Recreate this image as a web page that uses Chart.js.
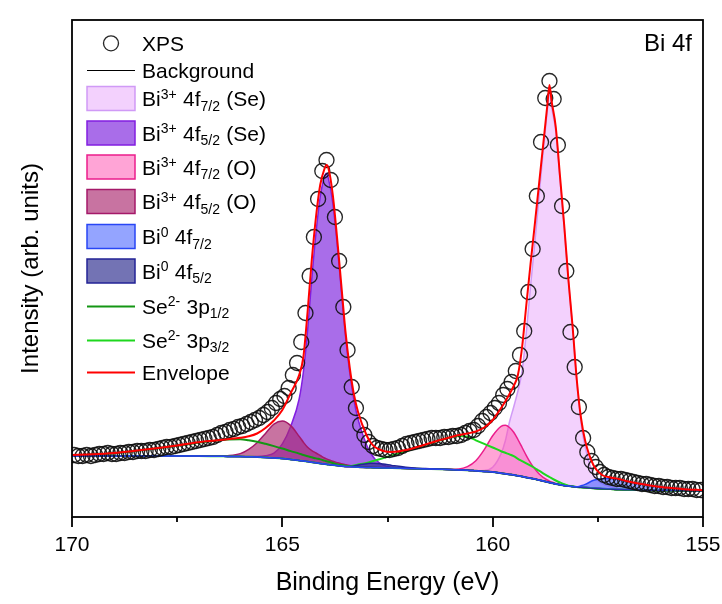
<!DOCTYPE html>
<html>
<head>
<meta charset="utf-8">
<title>Bi 4f XPS</title>
<script src="https://cdn.jsdelivr.net/npm/chart.js@4.4.1/dist/chart.umd.min.js"></script>
<style>
  html, body { margin: 0; padding: 0; background: #ffffff; }
  #wrap { width: 722px; height: 604px; position: relative; }
</style>
</head>
<body>
<div id="wrap"><canvas id="chart" width="722" height="604"></canvas></div>
<script>
// ---- Measured Bi 4f spectrum (binding energy in eV, intensity in arb. units) ----
const xpsEnergy = [
  169.95,169.85,169.75,169.65,169.55,169.45,169.35,169.25,169.15,169.05,
  168.95,168.85,168.75,168.65,168.55,168.45,168.35,168.25,168.15,168.05,
  167.95,167.85,167.75,167.65,167.55,167.45,167.35,167.25,167.15,167.05,
  166.95,166.85,166.75,166.65,166.55,166.45,166.35,166.25,166.15,166.05,
  165.95,165.85,165.75,165.65,165.55,165.45,165.35,165.25,165.15,165.05,
  164.95,164.85,164.75,164.65,164.55,164.45,164.35,164.25,164.15,164.05,
  163.95,163.85,163.75,163.65,163.55,163.45,163.35,163.25,163.15,163.05,
  162.95,162.85,162.75,162.65,162.55,162.45,162.35,162.25,162.15,162.05,
  161.95,161.85,161.75,161.65,161.55,161.45,161.35,161.25,161.15,161.05,
  160.95,160.85,160.75,160.65,160.55,160.45,160.35,160.25,160.15,160.05,
  159.95,159.85,159.75,159.65,159.55,159.45,159.35,159.25,159.15,159.05,
  158.95,158.85,158.75,158.65,158.55,158.45,158.35,158.25,158.15,158.05,
  157.95,157.85,157.75,157.65,157.55,157.45,157.35,157.25,157.15,157.05,
  156.95,156.85,156.75,156.65,156.55,156.45,156.35,156.25,156.15,156.05,
  155.95,155.85,155.75,155.65,155.55,155.45,155.35,155.25,155.15,155.05
];
const xpsIntensity = [
  62,61,61,62,61,62,63,63,64,63,
  63,64,64,65,65,66,66,66,67,67,
  68,69,70,70,71,72,73,74,75,76,
  77,78,79,80,82,84,85,87,88,90,
  91,93,95,97,99,102,105,109,114,118,
  121,129,142,154,175,204,241,280,318,346,
  357,337,300,256,210,167,130,109,92,82,
  75,71,69,68,67,67,68,69,71,73,
  74,75,76,77,78,79,79,79,80,80,
  81,81,82,84,86,87,91,96,100,104,
  109,114,122,128,135,146,162,186,225,268,
  321,375,419,436,418,372,311,246,185,150,
  110,79,65,56,50,45,42,40,39,38,
  38,37,36,35,34,33,33,32,31,31,
  30,30,29,29,29,28,28,28,27,27
];

// ---- Fit curves, all sampled on one energy grid ----
const fitEnergy = [
  170,169.5,169,168.5,168,167.5,167,166.6,166.3,166.0,
  165.8,165.6,165.4,165.2,165.0,164.8,164.6,164.5,164.4,164.3,
  164.2,164.1,164.0,163.95,163.9,163.8,163.7,163.6,163.5,163.4,
  163.3,163.2,163.0,162.9,162.8,162.6,162.4,162.0,161.6,161.2,
  160.8,160.6,160.4,160.2,160.0,159.8,159.7,159.6,159.5,159.4,
  159.3,159.2,159.1,159.0,158.9,158.8,158.7,158.65,158.6,158.5,
  158.4,158.3,158.2,158.1,158.0,157.9,157.8,157.6,157.4,157.2,
  157.0,156.8,156.5,156.0,155.5,155.0
];
const background = [
  61,61,61,61,61,61,61,60.8,60.6,60.4,
  60.2,60.0,59.6,59.1,58.5,57.6,56.6,56.0,55.4,54.8,
  54.2,53.6,53.0,52.7,52.4,51.9,51.4,50.9,50.5,50.2,
  50.0,49.8,49.5,49.4,49.3,49.1,48.9,48.5,48.1,47.7,
  47.1,46.8,46.2,45.6,45.0,43.8,43.2,42.6,42.0,41.2,
  40.4,39.6,38.8,38.0,37.0,36.0,35.0,34.5,34.0,33.0,
  32.2,31.5,31.0,30.5,30.0,29.7,29.4,28.8,28.3,27.9,
  27.5,27.3,27.0,26.5,26.2,26.0
];
const bi3SeF72 = [
  61,61,61,61,61,61,61,60.8,60.6,60.4,
  60.2,60.0,59.6,59.1,58.5,57.6,56.6,56.0,55.4,54.8,
  54.2,53.6,53.0,52.7,52.4,51.9,51.4,50.9,50.5,50.2,
  50.0,49.8,49.5,49.4,49.3,49.1,48.9,48.5,48.1,47.7,
  47.1,46.8,46.2,46.4,49.7,63.4,76,95,110,126,
  146.2,184.6,230.8,273.2,319.2,365.3,407.4,426.5,410.3,385.8,
  338,290.2,236.8,190,136,94,70,42,33.5,30.3,
  28.5,27.5,27.0,26.5,26.2,26.0
];
const bi3SeF52 = [
  61,61,61,61,61,61,61,60.8,60.6,60.4,
  60.5,60.5,61.2,63.8,73.1,90.8,118,145,186,238,
  284,320,340,343.7,337.6,313.8,274.3,227.5,181.5,145.1,
  117.5,97.8,72.2,64,58,51.9,49.8,48.5,48.1,47.7,
  47.1,46.8,46.2,45.6,45.0,43.8,43.2,42.6,42.0,41.2,
  40.4,39.6,38.8,38.0,37.0,36.0,35.0,34.5,34.0,33.0,
  32.2,31.5,31.0,30.5,30.0,29.7,29.4,28.8,28.3,27.9,
  27.5,27.3,27.0,26.5,26.2,26.0
];
const bi3OF72 = [
  61,61,61,61,61,61,61,60.8,60.6,60.4,
  60.2,60.0,59.6,59.1,58.5,57.6,56.6,56.0,55.4,54.8,
  54.2,53.6,53.0,52.7,52.4,51.9,51.4,50.9,50.5,50.2,
  50.0,49.8,49.5,49.4,49.3,49.1,48.9,48.5,48.1,47.7,
  48.1,50.4,56.3,67.4,81.3,90.7,91.7,89.5,84.7,77.5,
  69.5,61.4,54.1,48.1,43.2,39.6,37.0,35.9,35.0,33.5,
  32.4,31.6,31.0,30.5,30.0,29.7,29.4,28.8,28.3,27.9,
  27.5,27.3,27.0,26.5,26.2,26.0
];
const bi3OF52 = [
  61,61,61,61,61,61,61,60.8,61.3,63.4,
  67.7,74.3,83.6,92.9,96,91.4,80.6,74.8,69.7,66.4,
  64,61.5,59,58.1,57.3,55.7,54.4,53.2,52.3,51.5,
  51,50.5,49.9,49.7,49.5,49.1,48.9,48.5,48.1,47.7,
  47.1,46.8,46.2,45.6,45.0,43.8,43.2,42.6,42.0,41.2,
  40.4,39.6,38.8,38.0,37.0,36.0,35.0,34.5,34.0,33.0,
  32.2,31.5,31.0,30.5,30.0,29.7,29.4,28.8,28.3,27.9,
  27.5,27.3,27.0,26.5,26.2,26.0
];
const bi0F72 = [
  61,61,61,61,61,61,61,60.8,60.6,60.4,
  60.2,60.0,59.6,59.1,58.5,57.6,56.6,56.0,55.4,54.8,
  54.2,53.6,53.0,52.7,52.4,51.9,51.4,50.9,50.5,50.2,
  50.0,49.8,49.5,49.4,49.3,49.1,48.9,48.5,48.1,47.7,
  47.1,46.8,46.2,45.6,45.0,43.8,43.2,42.6,42.0,41.2,
  40.4,39.6,38.8,38.0,37.0,36.0,35.0,34.5,34.0,33.0,
  32.2,31.5,31.0,30.5,30.2,31.2,32.6,36.7,38.3,38.4,
  37.3,35.7,33.3,30.0,28.1,26.8
];
const bi0F52 = [
  61,61,61,61,61,61,61,60.8,60.6,60.4,
  60.2,60.0,59.6,59.1,58.5,57.6,56.6,56.0,55.4,54.8,
  54.2,53.6,53.0,52.7,52.4,51.9,51.4,50.9,50.6,50.7,
  51.1,52.1,53.3,53.8,53.8,52.9,51.6,49.4,48.4,47.8,
  47.1,46.8,46.2,45.6,45.0,43.8,43.2,42.6,42.0,41.2,
  40.4,39.6,38.8,38.0,37.0,36.0,35.0,34.5,34.0,33.0,
  32.2,31.5,31.0,30.5,30.0,29.7,29.4,28.8,28.3,27.9,
  27.5,27.3,27.0,26.5,26.2,26.0
];
const se3p12 = [
  61.8,62.5,63.8,66,68.5,71.3,74.3,76.3,77.6,77.8,
  76.8,75.3,73.2,70.9,68.5,65.9,63.4,62,60.8,59.7,
  58.6,57.6,56.4,55.8,55.2,54,52.8,51.9,51.2,50.7,
  50.3,50,49.6,49.4,49.3,49.1,48.9,48.5,48.1,47.7,
  47.1,46.8,46.2,45.6,45.0,43.8,43.2,42.6,42.0,41.2,
  40.4,39.6,38.8,38.0,37.0,36.0,35.0,34.5,34.0,33.0,
  32.2,31.5,31.0,30.5,30.0,29.7,29.4,28.8,28.3,27.9,
  27.5,27.3,27.0,26.5,26.2,26.0
];
const se3p32 = [
  61,61,61,61,61,61,61,60.8,60.6,60.4,
  60.2,60.0,59.6,59.1,58.5,57.6,56.6,56.0,55.4,54.8,
  54.2,53.6,53.0,52.7,52.4,51.9,51.4,50.9,50.8,50.9,
  51.5,52.4,54.1,55.3,56.5,58.9,61.6,66.5,72.1,77.3,
  80.9,80.3,76.7,73.1,69.5,65.8,64.2,62.6,60.8,58.2,
  55.9,53.6,51.3,49,46.3,43.7,41.2,40,38.8,36.5,
  34.5,32.7,31.4,30.6,30.0,29.7,29.4,28.8,28.3,27.9,
  27.5,27.3,27.0,26.5,26.2,26.0
];
const envelope = [
  62,62.7,64,66.2,68.7,71.5,74.8,76.5,77.8,79.2,
  80.7,83.5,89,96.5,107,124,142,160,205,257,
  300,332,348,352,348,322,280,233,186,150,
  123,105,82,74.5,70,66,65,67.5,72.5,77.5,
  82,83.5,85.5,89.5,97,109,115.5,123,131,142,
  170,212,253,292,332,372,412,432,416,390,
  341,292,237.5,190.5,137,99,76,51.5,42,39.5,
  38,35.8,33.3,30,28.1,26.8
];

// ---- Axis ticks ----
const xTicks = [170, 165, 160, 155];
const xMinorTicks = [167.5, 162.5, 157.5];

const FONT = '"Liberation Sans", Arial, Helvetica, sans-serif';

function pairs(xs, ys) { return xs.map((x, i) => ({ x: x, y: ys[i] })); }

// a fitted component filled down to the background curve (dataset index 1)
function component(label, rich, values, stroke, fillColor, order) {
  return {
    label: label, rich: rich, kind: 'box',
    data: pairs(fitEnergy, values),
    borderColor: stroke, backgroundColor: fillColor, borderWidth: 1.5,
    pointRadius: 0, fill: 1, cubicInterpolationMode: 'monotone', order: order
  };
}
function curve(label, rich, values, stroke, width, order) {
  return {
    label: label, rich: rich, kind: 'line',
    data: pairs(fitEnergy, values),
    borderColor: stroke, backgroundColor: stroke, borderWidth: width,
    pointRadius: 0, fill: false, cubicInterpolationMode: 'monotone', order: order
  };
}

const datasets = [
  {
    label: 'XPS', rich: [['XPS']], kind: 'circle',
    data: pairs(xpsEnergy, xpsIntensity),
    showLine: false, pointStyle: 'circle', pointRadius: 7.5, pointBorderWidth: 1.35,
    pointBorderColor: 'rgba(15,15,15,0.9)', pointBackgroundColor: 'rgba(0,0,0,0)',
    borderColor: 'rgba(15,15,15,0.9)', order: 1
  },
  curve('Background', [['Background']], background, '#000000', 1.3, 20),
  component('Bi3+ 4f7/2 (Se)', [['Bi'], ['3+', 'sup'], [' 4f'], ['7/2', 'sub'], [' (Se)']],
    bi3SeF72, 'rgba(205,150,245,0.95)', 'rgba(238,190,252,0.7)', 19),
  component('Bi3+ 4f5/2 (Se)', [['Bi'], ['3+', 'sup'], [' 4f'], ['5/2', 'sub'], [' (Se)']],
    bi3SeF52, 'rgb(130,30,225)', 'rgba(140,60,225,0.75)', 18),
  component('Bi3+ 4f7/2 (O)', [['Bi'], ['3+', 'sup'], [' 4f'], ['7/2', 'sub'], [' (O)']],
    bi3OF72, 'rgb(235,30,140)', 'rgba(255,90,180,0.55)', 17),
  component('Bi3+ 4f5/2 (O)', [['Bi'], ['3+', 'sup'], [' 4f'], ['5/2', 'sub'], [' (O)']],
    bi3OF52, 'rgb(165,25,105)', 'rgba(170,40,110,0.65)', 16),
  component('Bi0 4f7/2', [['Bi'], ['0', 'sup'], [' 4f'], ['7/2', 'sub']],
    bi0F72, 'rgb(40,70,245)', 'rgba(60,90,255,0.55)', 11),
  component('Bi0 4f5/2', [['Bi'], ['0', 'sup'], [' 4f'], ['5/2', 'sub']],
    bi0F52, 'rgb(35,35,150)', 'rgba(40,40,140,0.65)', 12),
  curve('Se2- 3p1/2', [['Se'], ['2-', 'sup'], [' 3p'], ['1/2', 'sub']], se3p12, 'rgb(20,150,20)', 2, 14),
  curve('Se2- 3p3/2', [['Se'], ['2-', 'sup'], [' 3p'], ['3/2', 'sub']], se3p32, 'rgb(30,215,30)', 2, 13),
  curve('Envelope', [['Envelope']], envelope, 'rgb(255,0,0)', 2, 0)
];

// rich text with superscripts / subscripts, left aligned on an alphabetic baseline
function drawRich(ctx, parts, x, baseline) {
  parts.forEach(function (p) {
    const small = p[1] === 'sup' || p[1] === 'sub';
    ctx.font = (small ? 14 : 21) + 'px ' + FONT;
    const dy = p[1] === 'sup' ? -7.5 : (p[1] === 'sub' ? 4.5 : 0);
    ctx.fillText(p[0], x, baseline + dy);
    x += ctx.measureText(p[0]).width + (small ? 0.5 : 0);
  });
}

const decorations = {
  id: 'decorations',
  afterDraw: function (chart) {
    const ctx = chart.ctx, a = chart.chartArea, xs = chart.scales.x;
    ctx.save();

    // frame around the plot
    ctx.strokeStyle = '#000';
    ctx.lineWidth = 1.8;
    ctx.strokeRect(a.left, a.top, a.right - a.left, a.bottom - a.top);

    // outward ticks on the energy axis
    ctx.beginPath();
    xTicks.forEach(function (v) {
      const p = Math.round(xs.getPixelForValue(v));
      ctx.moveTo(p, a.bottom); ctx.lineTo(p, a.bottom + 10);
    });
    xMinorTicks.forEach(function (v) {
      const p = Math.round(xs.getPixelForValue(v));
      ctx.moveTo(p, a.bottom); ctx.lineTo(p, a.bottom + 5);
    });
    ctx.stroke();

    ctx.fillStyle = '#000';
    ctx.textAlign = 'center';
    ctx.textBaseline = 'middle';
    ctx.font = '21px ' + FONT;
    xTicks.forEach(function (v) {
      ctx.fillText(String(v), xs.getPixelForValue(v), a.bottom + 28);
    });

    // axis titles
    ctx.font = '25px ' + FONT;
    ctx.fillText('Binding Energy (eV)', (a.left + a.right) / 2, a.bottom + 66);
    ctx.font = '24px ' + FONT;
    ctx.save();
    ctx.translate(31, (a.top + a.bottom) / 2);
    ctx.rotate(-Math.PI / 2);
    ctx.fillText('Intensity (arb. units)', 0, 0);
    ctx.restore();

    // panel tag
    ctx.textAlign = 'right';
    ctx.font = '24px ' + FONT;
    ctx.fillText('Bi 4f', a.right - 11, a.top + 24);

    // legend
    const rows = [43.3, 70, 98.5, 133, 167, 201.5, 236.5, 271, 306, 340, 372];
    const x0 = a.left + 15, x1 = a.left + 63, tx = a.left + 70;
    ctx.textAlign = 'left';
    ctx.textBaseline = 'alphabetic';
    chart.data.datasets.forEach(function (ds, i) {
      const cy = rows[i];
      if (ds.kind === 'circle') {
        ctx.beginPath();
        ctx.arc((x0 + x1) / 2, cy, 7.5, 0, Math.PI * 2);
        ctx.strokeStyle = ds.pointBorderColor;
        ctx.lineWidth = 1.35;
        ctx.stroke();
      } else if (ds.kind === 'box') {
        ctx.fillStyle = ds.backgroundColor;
        ctx.fillRect(x0, cy - 12, x1 - x0, 24);
        ctx.strokeStyle = ds.borderColor;
        ctx.lineWidth = 1.5;
        ctx.strokeRect(x0, cy - 12, x1 - x0, 24);
      } else {
        ctx.beginPath();
        ctx.moveTo(x0, Math.round(cy) + 0.5); ctx.lineTo(x1, Math.round(cy) + 0.5);
        ctx.strokeStyle = ds.borderColor;
        ctx.lineWidth = ds.kind === 'line' && ds.label === 'Background' ? 1 : ds.borderWidth;
        ctx.stroke();
      }
      ctx.fillStyle = '#000';
      drawRich(ctx, ds.rich, tx, cy + 7.5);
    });

    ctx.restore();
  }
};

new Chart(document.getElementById('chart'), {
  type: 'line',
  data: { datasets: datasets },
  plugins: [decorations],
  options: {
    responsive: false,
    animation: false,
    devicePixelRatio: 1,
    layout: { padding: { top: 20, right: 19, left: 0, bottom: 0 } },
    plugins: { legend: { display: false }, tooltip: { enabled: false } },
    scales: {
      x: {
        type: 'linear', min: 155, max: 170, reverse: true,
        grid: { display: false }, border: { display: false },
        ticks: { display: false },
        afterFit: function (s) { s.height = 87; }
      },
      y: {
        type: 'linear', min: 0, max: 497,
        grid: { display: false }, border: { display: false },
        ticks: { display: false },
        afterFit: function (s) { s.width = 72; }
      }
    }
  }
});
</script>
</body>
</html>
